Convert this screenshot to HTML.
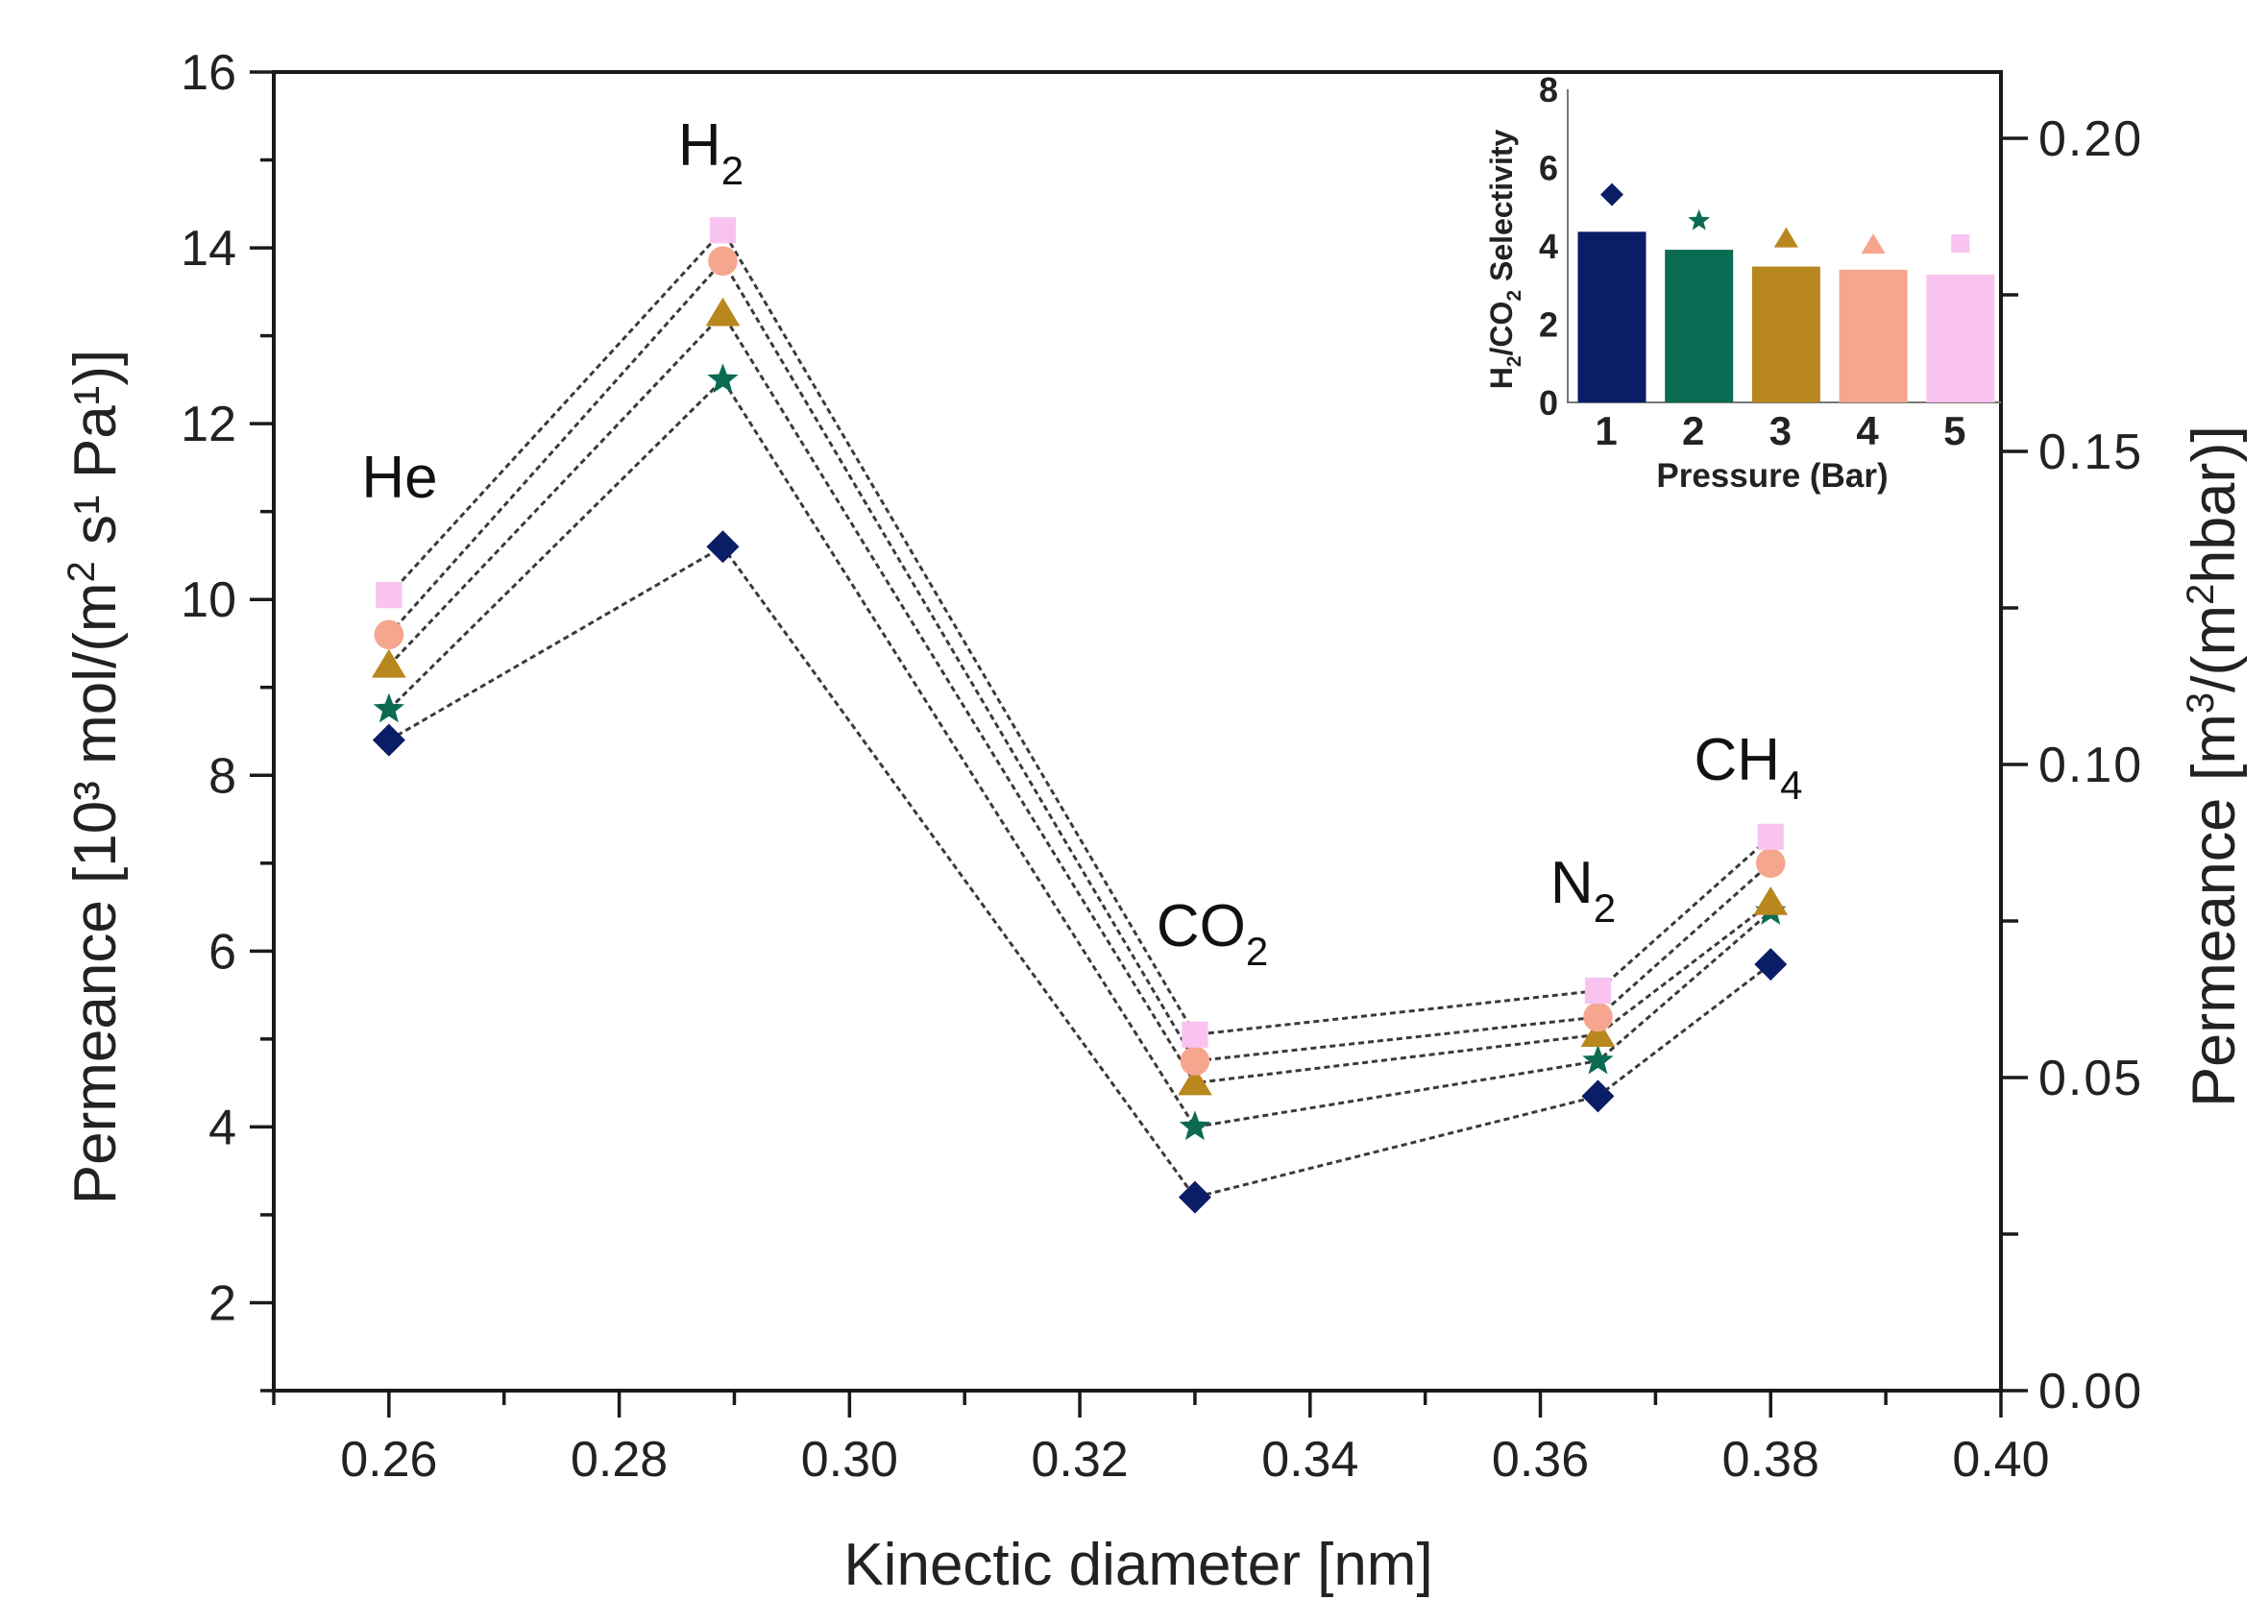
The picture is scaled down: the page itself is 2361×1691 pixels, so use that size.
<!DOCTYPE html>
<html><head><meta charset="utf-8"><style>
html,body{margin:0;padding:0;background:#fff;}
svg{display:block;font-family:"Liberation Sans",Arial,sans-serif;}
</style></head><body>
<svg id="chart" width="2361" height="1691" viewBox="0 0 2361 1691" xmlns="http://www.w3.org/2000/svg">
<rect width="2361" height="1691" fill="#fff"/>
<g id="axes"></g>
<g id="lines"></g>
<g id="marks"></g>
<g id="inset"></g>
</svg>
<script>
const gasX = [0.26, 0.289, 0.33, 0.365, 0.38];
const gasNames = ["He", "H2", "CO2", "N2", "CH4"];
const series1 = [8.4, 10.6, 3.2, 4.35, 5.85];
const series2 = [8.75, 12.5, 4.0, 4.75, 6.45];
const series3 = [9.25, 13.25, 4.5, 5.05, 6.55];
const series4 = [9.6, 13.85, 4.75, 5.25, 7.0];
const series5 = [10.05, 14.2, 5.05, 5.55, 7.3];
const xTicks = [0.26, 0.28, 0.30, 0.32, 0.34, 0.36, 0.38, 0.40];
const yTicks = [2, 4, 6, 8, 10, 12, 14, 16];
const rightTicks = [0.00, 0.05, 0.10, 0.15, 0.20];
const pressures = [1, 2, 3, 4, 5];
const selectivityBars = [4.36, 3.9, 3.47, 3.39, 3.27];
const selectivityMarks = [5.31, 4.64, 4.18, 4.02, 4.06];
const insetYTicks = [0, 2, 4, 6, 8];

const NS = "http://www.w3.org/2000/svg";
const colors = ["#0b1d66", "#0a6b52", "#b8871d", "#f6a58f", "#f8c4ef"];
const shapes = ["diamond", "star", "triangle", "circle", "square"];
const L = 285, R = 2083, T = 75, B = 1448;
function xs(v){ return L + (v - 0.25) / 0.15 * (R - L); }
function ys(v){ return T + (16 - v) * (B - T) / 15; }
function yr(v){ return B - v / 0.05 * 326; }
function ix(i){ return 1678 + i * 90.7; }
function iy(v){ return 419 - v * 40.75; }
function el(tag, attrs, parent){
  const e = document.createElementNS(NS, tag);
  for (const k in attrs) e.setAttribute(k, attrs[k]);
  parent.appendChild(e); return e;
}
const axes = document.getElementById('axes');
const lines = document.getElementById('lines');
const marks = document.getElementById('marks');
const inset = document.getElementById('inset');

let f = el('path', {d:`M${L},${B} L${L},${T} L${R},${T} L${R},${B} Z`, fill:'none', stroke:'#1a1a1a', 'stroke-width':4}, axes);



for (let v = 1; v <= 16; v++) {
  const major = v % 2 === 0;
  const t = el('line', {x1:L, x2:L-(major?25:14), y1:ys(v), y2:ys(v), stroke:'#1a1a1a', 'stroke-width':3.5}, axes);
  
  
}
yTicks.forEach(v => {
  const t = el('text', {x:246, y:ys(v)+18, 'text-anchor':'end', 'font-size':52, fill:'#222'}, axes);
  t.textContent = v;
  
  
});
for (let k = 0; k <= 15; k++) {
  const v = 0.25 + k * 0.01;
  const major = k % 2 === 1;
  const t = el('line', {x1:xs(v), x2:xs(v), y1:B, y2:B+(major?28:15), stroke:'#1a1a1a', 'stroke-width':3.5}, axes);
  
  
}
xTicks.forEach(v => {
  const t = el('text', {x:xs(v), y:1537, 'text-anchor':'middle', 'font-size':52, fill:'#222'}, axes);
  t.textContent = v.toFixed(2);
  
  
});
for (let k = 0; k <= 8; k++) {
  const v = k * 0.025;
  const major = k % 2 === 0;
  const t = el('line', {x1:R, x2:R+(major?28:18), y1:yr(v), y2:yr(v), stroke:'#1a1a1a', 'stroke-width':3.5}, axes);
  
  
}
rightTicks.forEach(v => {
  const t = el('text', {x:2122, y:yr(v)+18, 'text-anchor':'start', 'font-size':52, fill:'#222', 'letter-spacing':'2'}, axes);
  t.textContent = v.toFixed(2);
  
  
});
let xt = el('text', {x:1185, y:1650, 'text-anchor':'middle', 'font-size':62, fill:'#222'}, axes);
xt.textContent = 'Kinectic diameter [nm]';


let ylt = el('text', {x:0, y:0, 'text-anchor':'middle', 'font-size':62, fill:'#222', transform:'translate(120,809) rotate(-90)'}, axes);
ylt.innerHTML = 'Permeance [10³ mol/(m<tspan dy="-22" font-size="40">2</tspan><tspan dy="22"> s¹ Pa¹)]</tspan>';


let yrt = el('text', {x:0, y:0, 'text-anchor':'middle', 'font-size':63, fill:'#222', transform:'translate(2326,798) rotate(-90)'}, axes);
yrt.innerHTML = 'Permeance [m<tspan dy="-22" font-size="40">3</tspan><tspan dy="22">/(m</tspan><tspan dy="-22" font-size="40">2</tspan><tspan dy="22">hbar)]</tspan>';



const gasLabelPos = [[416,518,'He',''],[740,172,'H','2'],[1262,985,'CO','2'],[1648,940,'N','2'],[1820,812,'CH','4']];
gasLabelPos.forEach((p,i) => {
  const t = el('text', {x:p[0], y:p[1], 'text-anchor':'middle', 'font-size':62, fill:'#111'}, axes);
  t.innerHTML = p[2] + (p[3] ? `<tspan dy="20" font-size="42">${p[3]}</tspan>` : '');
  
  
});

function marker(shape, cx, cy, s, color, parent){
  let m;
  if (shape === 'diamond') m = el('path', {d:`M${cx},${cy-s} L${cx+s},${cy} L${cx},${cy+s} L${cx-s},${cy} Z`, fill:color}, parent);
  else if (shape === 'square') m = el('rect', {x:cx-s*0.8, y:cy-s*0.8, width:s*1.6, height:s*1.6, fill:color}, parent);
  else if (shape === 'circle') m = el('circle', {cx:cx, cy:cy, r:s*0.9, fill:color}, parent);
  else if (shape === 'triangle') m = el('path', {d:`M${cx},${cy-s} L${cx+s*1.05},${cy+s*0.75} L${cx-s*1.05},${cy+s*0.75} Z`, fill:color}, parent);
  else {
    let d = '';
    for (let k = 0; k < 10; k++) {
      const r = k % 2 === 0 ? s : s * 0.42;
      const a = -Math.PI/2 + k * Math.PI/5;
      d += (k ? 'L' : 'M') + (cx + r*Math.cos(a)).toFixed(1) + ',' + (cy + r*Math.sin(a)).toFixed(1);
    }
    m = el('path', {d:d+'Z', fill:color}, parent);
  }
  return m;
}

const allSeries = [series1, series2, series3, series4, series5];
allSeries.forEach((s, si) => {
  const pts = s.map((v,i) => `${xs(gasX[i]).toFixed(1)},${ys(v).toFixed(1)}`).join(' ');
  const pl = el('polyline', {points:pts, fill:'none', stroke:'#3a3a3a', 'stroke-width':3, 'stroke-dasharray':'6,4'}, lines);
  
  
  s.forEach((v,i) => {
    const m = marker(shapes[si], xs(gasX[i]), ys(v), 17, colors[si], marks);
    
    
  });
});

let ia = el('path', {d:`M1632,93 L1632,419 L2083,419`, fill:'none', stroke:'#777', 'stroke-width':2}, inset);


insetYTicks.forEach(v => {
  const t = el('text', {x:1622, y:iy(v)+13, 'text-anchor':'end', 'font-size':36, 'font-weight':'bold', fill:'#222'}, inset);
  t.textContent = v;
  
  
});
selectivityBars.forEach((v,i) => {
  const b = el('rect', {x:ix(i)-35.5, y:iy(v), width:71, height:iy(0)-iy(v), fill:colors[i]}, inset);
  
  
  const insetShapes = ['diamond','star','triangle','triangle','square'];
  const m = marker(insetShapes[i], ix(i), iy(selectivityMarks[i]), 12, colors[i], inset);
  
  
  const t = el('text', {x:ix(i)-6, y:463, 'text-anchor':'middle', 'font-size':42, 'font-weight':'bold', fill:'#222'}, inset);
  t.textContent = pressures[i];
  
  
});
let ixt = el('text', {x:1845, y:507, 'text-anchor':'middle', 'font-size':35, 'font-weight':'bold', fill:'#222'}, inset);
ixt.textContent = 'Pressure (Bar)';


let iyt = el('text', {x:0, y:0, 'text-anchor':'middle', 'font-size':32, 'font-weight':'bold', fill:'#222', transform:'translate(1574,270) rotate(-90)'}, inset);
iyt.innerHTML = 'H<tspan dy="9" font-size="21">2</tspan><tspan dy="-9">/CO</tspan><tspan dy="9" font-size="21">2</tspan><tspan dy="-9"> Selectivity</tspan>';


</script>
</body></html>
